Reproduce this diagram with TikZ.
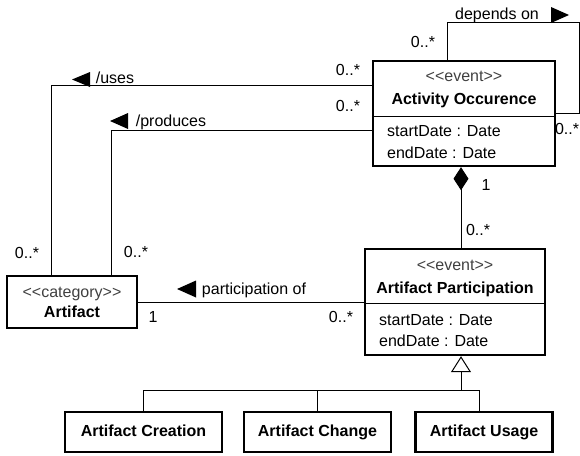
\documentclass[tikz,border=0pt]{standalone}
\usepackage{fontspec}
\setmainfont{Liberation Sans}[Ligatures=TeXOff]
\usetikzlibrary{arrows.meta}
\begin{document}
\begin{tikzpicture}[x=1pt,y=-1pt,
  box/.style={draw,line width=2.4pt,inner sep=0pt},
  txt/.style={inner sep=0pt,text height=11.5pt,text depth=3pt,font=\fontsize{16}{19}\selectfont},
  stereo/.style={txt,text=black!75},
  bold/.style={txt,font=\fontsize{16}{19}\selectfont\bfseries},
  conn/.style={line width=1pt},
  dirmark/.style={fill=black},
  comp/.style={conn,{Diamond[length=23pt,width=15pt]}-},
  gen/.style={conn,-{Triangle[open,length=16pt,width=20pt,fill=white,line width=1pt]}},
]
\useasboundingbox (0,0) rectangle (580,455);

% ---- Activity Occurence
\node[box,minimum width=182pt,minimum height=105pt] (ao) at (464,113.5) {};
\node[stereo] (aos) at (464,77) {<<event>>};
\node[bold] (aon) at (464,100) {Activity Occurence};
\draw[conn] (ao.west |- 0,116) -- (ao.east |- 0,116);
\node[txt,anchor=west] (aoa1) at (387,132) {startDate : Date};
\node[txt,anchor=west] (aoa2) at (387,154) {endDate : Date};

% ---- Artifact Participation
\node[box,minimum width=180pt,minimum height=106pt] (ap) at (455,302) {};
\node[stereo] (aps) at (455,266) {<<event>>};
\node[bold] (apn) at (455,289) {Artifact Participation};
\draw[conn] (ap.west |- 0,303) -- (ap.east |- 0,303);
\node[txt,anchor=west] (apa1) at (379,321) {startDate : Date};
\node[txt,anchor=west] (apa2) at (379,342) {endDate : Date};

% ---- Artifact
\node[box,minimum width=130pt,minimum height=52pt] (art) at (72,302) {};
\node[stereo] (arts) at (72,293) {<<category>>};
\node[bold] (artn) at (72,313) {Artifact};

% ---- subclasses
\node[box,minimum width=157pt,minimum height=40pt,bold] (cre) at (143.5,432) {Artifact Creation};
\node[box,minimum width=147pt,minimum height=40pt,bold] (chg) at (317.5,432) {Artifact Change};
\node[box,minimum width=137pt,minimum height=40pt,bold] (use) at (484,432) {Artifact Usage};

% ---- /uses
\coordinate (ub) at (51,85);
\draw[conn] (ub -| ao.west) -- (ub) -- (ub |- art.north);
\fill[dirmark] (72,79.5) -- (90,72) -- (90,87) -- cycle;
\node[txt] (usesl) at (115,79) {/uses};
\node[txt] (usesm1) at (348,71) {0..*};
\node[txt] (usesm2) at (27,254) {0..*};

% ---- /produces
\coordinate (pb) at (111,130);
\draw[conn] (pb -| ao.west) -- (pb) -- (pb |- art.north);
\fill[dirmark] (110,121) -- (128,113) -- (128,129) -- cycle;
\node[txt] (prodl) at (171,122) {/produces};
\node[txt] (prodm1) at (348,107) {0..*};
\node[txt] (prodm2) at (136,253) {0..*};

% ---- participation of
\draw[conn] (art.east) -- (art.east -| ap.west);
\fill[dirmark] (177,289) -- (196,280.5) -- (196,297.5) -- cycle;
\node[txt] (partl) at (254,290) {participation of};
\node[txt] (partm1) at (153,318) {1};
\node[txt] (partm2) at (341,318) {0..*};

% ---- depends on (self association)
\coordinate (d1) at (447,22);
\coordinate (d2) at (579,22);
\coordinate (d3) at (579,113);
\draw[conn] (d1 |- ao.north) -- (d1) -- (d2) -- (d3) -- (d3 -| ao.east);
\fill[dirmark] (569,15) -- (551,7) -- (551,23) -- cycle;
\node[txt] (depl) at (497,15) {depends on};
\node[txt] (depm1) at (423,43) {0..*};
\node[txt] (depm2) at (567,130) {0..*};

% ---- composition
\coordinate (cx) at (461,0);
\draw[comp] (cx |- ao.south) -- (cx |- ap.north);
\node[txt] (compm1) at (486,186) {1};
\node[txt] (compm2) at (478,231) {0..*};

% ---- generalization
\coordinate (gb) at (461,390);
\coordinate (ux) at (479,0);
\draw[conn] (cre.north) -- (cre.north |- gb) -- (ux |- gb) -- (ux |- use.north);
\draw[conn] (chg.north) -- (chg.north |- gb);
\draw[gen] (gb) -- (gb |- ap.south);
\end{tikzpicture}
\end{document}
